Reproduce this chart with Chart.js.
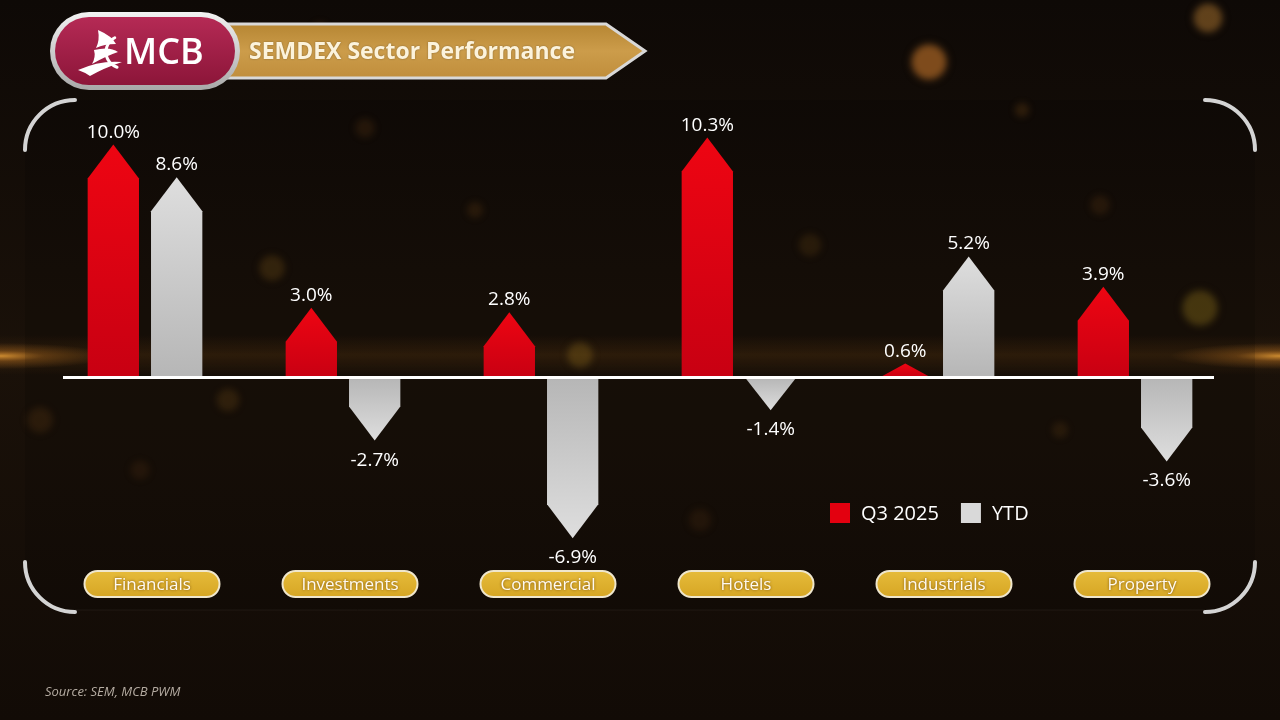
<!DOCTYPE html>
<html>
<head>
<meta charset="utf-8">
<title>SEMDEX Sector Performance</title>
<script src="https://cdn.jsdelivr.net/npm/chart.js@4.4.1/dist/chart.umd.min.js"></script>
<style>
  html, body { margin: 0; padding: 0; background: #120b06; overflow: hidden; }
  .chart-wrap { position: relative; width: 1280px; height: 720px; }
</style>
</head>
<body>
<div class="chart-wrap">
  <canvas id="chart" width="1280" height="720"></canvas>
</div>
<script>
// data
const categories = ['Financials', 'Investments', 'Commercial', 'Hotels', 'Industrials', 'Property'];
const q3Values = [10.0, 3.0, 2.8, 10.3, 0.6, 3.9];
const ytdValues = [8.6, -2.7, -6.9, -1.4, 5.2, -3.6];
const seriesNames = ['Q3 2025', 'YTD'];
const seriesColors = ['#e3000f', '#d9d9d9'];

const titleText = 'SEMDEX Sector Performance';
const sourceText = 'Source: SEM, MCB PWM';

/*background bokeh (decoration only)*/
const bokeh = [
  [929, 62, 22, 'rgba(235,140,50,0.5)'],
  [1208, 18, 18, 'rgba(220,150,60,0.4)'],
  [1200, 308, 22, 'rgba(210,170,40,0.3)'],
  [272, 268, 16, 'rgba(200,140,40,0.2)'],
  [228, 400, 14, 'rgba(190,130,40,0.18)'],
  [580, 355, 16, 'rgba(210,160,40,0.25)'],
  [810, 245, 14, 'rgba(190,130,40,0.15)'],
  [475, 210, 10, 'rgba(190,120,40,0.15)'],
  [1022, 110, 9, 'rgba(190,120,40,0.2)'],
  [365, 128, 12, 'rgba(180,110,40,0.15)'],
  [1100, 205, 12, 'rgba(180,110,40,0.15)'],
  [700, 520, 14, 'rgba(170,100,40,0.12)'],
  [140, 470, 12, 'rgba(170,100,40,0.12)'],
  [1060, 430, 10, 'rgba(180,120,40,0.14)'],
  [320, 30, 10, 'rgba(170,100,40,0.14)'],
  [40, 420, 16, 'rgba(190,120,40,0.15)']
];

function roundRect(ctx, x, y, w, h, r) {
  ctx.beginPath();
  ctx.moveTo(x + r, y);
  ctx.lineTo(x + w - r, y);
  ctx.arc(x + w - r, y + r, r, -Math.PI / 2, 0);
  ctx.lineTo(x + w, y + h - r);
  ctx.arc(x + w - r, y + h - r, r, 0, Math.PI / 2);
  ctx.lineTo(x + r, y + h);
  ctx.arc(x + r, y + h - r, r, Math.PI / 2, Math.PI);
  ctx.lineTo(x, y + r);
  ctx.arc(x + r, y + r, r, Math.PI, Math.PI * 1.5);
  ctx.closePath();
}

function flare(ctx, x, y) {
  ctx.save();
  ctx.translate(x, y);
  ctx.scale(1, 0.12);
  let g = ctx.createRadialGradient(0, 0, 0, 0, 0, 110);
  g.addColorStop(0, 'rgba(255,175,60,0.75)');
  g.addColorStop(0.4, 'rgba(230,140,40,0.3)');
  g.addColorStop(1, 'rgba(230,140,40,0)');
  ctx.fillStyle = g;
  ctx.beginPath();
  ctx.arc(0, 0, 110, 0, Math.PI * 2);
  ctx.fill();
  ctx.restore();
}

/*background, header, frame*/
const backdrop = {
  id: 'backdrop',
  beforeDraw(chart) {
    const ctx = chart.ctx;
    const W = chart.width, H = chart.height;
    ctx.save();
    let bg = ctx.createLinearGradient(0, 0, 0, H);
    bg.addColorStop(0, '#0e0906');
    bg.addColorStop(0.5, '#1a1109');
    bg.addColorStop(1, '#120b06');
    ctx.fillStyle = bg;
    ctx.fillRect(0, 0, W, H);

    // warm horizontal streak
    let streak = ctx.createLinearGradient(0, 335, 0, 375);
    streak.addColorStop(0, 'rgba(200,120,30,0)');
    streak.addColorStop(0.5, 'rgba(200,120,30,0.14)');
    streak.addColorStop(1, 'rgba(200,120,30,0)');
    ctx.fillStyle = streak;
    ctx.fillRect(0, 335, W, 40);
    flare(ctx, 0, 356);
    flare(ctx, W, 356);

    ctx.filter = 'blur(3px)';
    bokeh.forEach(function (b) {
      let g = ctx.createRadialGradient(b[0], b[1], 0, b[0], b[1], b[2]);
      g.addColorStop(0, b[3]);
      g.addColorStop(0.7, b[3]);
      g.addColorStop(1, 'rgba(0,0,0,0)');
      ctx.fillStyle = g;
      ctx.beginPath();
      ctx.arc(b[0], b[1], b[2], 0, Math.PI * 2);
      ctx.fill();
    });
    ctx.filter = 'none';

    // panel
    roundRect(ctx, 25, 100, 1230, 510, 50);
    ctx.fillStyle = 'rgba(0,0,0,0.12)';
    ctx.fill();
    ctx.strokeStyle = 'rgba(255,255,255,0.06)';
    ctx.lineWidth = 1;
    ctx.beginPath();
    ctx.moveTo(75, 610);
    ctx.lineTo(1205, 610);
    ctx.stroke();

    // corner arcs
    ctx.strokeStyle = '#d4d4d4';
    ctx.lineWidth = 4;
    ctx.lineCap = 'round';
    [[75, 150, Math.PI, Math.PI * 1.5], [1205, 150, Math.PI * 1.5, Math.PI * 2],
     [75, 562, Math.PI * 0.5, Math.PI], [1205, 562, 0, Math.PI * 0.5]].forEach(function (a) {
      ctx.beginPath();
      ctx.arc(a[0], a[1], 50, a[2], a[3]);
      ctx.stroke();
    });

    // title banner (arrow)
    ctx.beginPath();
    ctx.moveTo(215, 24);
    ctx.lineTo(606, 24);
    ctx.lineTo(645, 51);
    ctx.lineTo(606, 78);
    ctx.lineTo(215, 78);
    ctx.closePath();
    let gold = ctx.createLinearGradient(0, 24, 0, 78);
    gold.addColorStop(0, '#b68633');
    gold.addColorStop(0.5, '#cc9c4a');
    gold.addColorStop(1, '#c08e3c');
    ctx.fillStyle = gold;
    ctx.fill();
    ctx.strokeStyle = '#d8d8d8';
    ctx.lineWidth = 3;
    ctx.lineJoin = 'miter';
    ctx.stroke();

    ctx.fillStyle = '#fcf3dc';
    ctx.font = 'bold 23px "Open Sans"';
    ctx.textAlign = 'left';
    ctx.textBaseline = 'alphabetic';
    ctx.shadowColor = 'rgba(0,0,0,0.35)';
    ctx.shadowBlur = 2;
    ctx.fillText(titleText, 249, 59, 326);
    ctx.shadowBlur = 0;

    // logo pill
    roundRect(ctx, 50, 12, 190, 78, 39);
    let silver = ctx.createLinearGradient(0, 12, 0, 90);
    silver.addColorStop(0, '#f2f2f2');
    silver.addColorStop(1, '#a8a8a8');
    ctx.fillStyle = silver;
    ctx.fill();
    roundRect(ctx, 55, 17, 180, 68, 34);
    let crimson = ctx.createLinearGradient(0, 17, 0, 85);
    crimson.addColorStop(0, '#b52a55');
    crimson.addColorStop(1, '#8c1539');
    ctx.fillStyle = crimson;
    ctx.fill();

    // sail icon
    ctx.fillStyle = '#ffffff';
    ctx.beginPath();
    ctx.moveTo(98, 30);
    ctx.quadraticCurveTo(112, 36, 116, 44);
    ctx.quadraticCurveTo(104, 44, 96, 48);
    ctx.quadraticCurveTo(100, 40, 98, 30);
    ctx.fill();
    ctx.beginPath();
    ctx.moveTo(94, 50);
    ctx.quadraticCurveTo(110, 46, 118, 52);
    ctx.quadraticCurveTo(106, 56, 92, 64);
    ctx.quadraticCurveTo(96, 57, 94, 50);
    ctx.fill();
    ctx.beginPath();
    ctx.moveTo(78, 70);
    ctx.quadraticCurveTo(100, 60, 122, 62);
    ctx.quadraticCurveTo(104, 68, 90, 76);
    ctx.quadraticCurveTo(84, 72, 78, 70);
    ctx.fill();
    ctx.lineWidth = 3;
    ctx.strokeStyle = '#ffffff';
    ctx.beginPath();
    ctx.arc(122, 52, 16, Math.PI * 0.6, Math.PI * 1.35);
    ctx.stroke();

    ctx.font = '600 36px "Open Sans"';
    ctx.fillStyle = '#ffffff';
    ctx.fillText('MCB', 124, 64, 80);

    // source
    ctx.font = 'italic 13px "Open Sans"';
    ctx.fillStyle = '#b5aca2';
    ctx.fillText(sourceText, 45, 696, 138);
    ctx.restore();
  }
};

/*arrow bars, labels, pills, legend*/
const arrows = {
  id: 'arrows',
  afterDatasetsDraw(chart) {
    const ctx = chart.ctx;
    const yScale = chart.scales.y;
    const xScale = chart.scales.x;
    const zero = yScale.getPixelForValue(0);
    ctx.save();

    chart.data.datasets.forEach(function (ds, i) {
      const meta = chart.getDatasetMeta(i);
      meta.data.forEach(function (bar, j) {
        const p = bar.getProps(['x', 'y', 'base', 'width'], true);
        const h = Math.abs(p.base - p.y);
        const dir = p.y < p.base ? -1 : 1;
        const tip = Math.min(34, h);
        const shoulder = p.y - dir * tip;
        const l = p.x - p.width / 2, r = p.x + p.width / 2;
        let g = ctx.createLinearGradient(0, p.y, 0, p.base);
        if (i === 0) {
          g.addColorStop(0, '#ee0512');
          g.addColorStop(1, '#c80012');
        } else {
          g.addColorStop(0, '#dedede');
          g.addColorStop(1, '#b6b6b6');
        }
        ctx.fillStyle = g;
        ctx.beginPath();
        ctx.moveTo(l, p.base);
        ctx.lineTo(l, shoulder);
        ctx.lineTo(p.x, p.y);
        ctx.lineTo(r, shoulder);
        ctx.lineTo(r, p.base);
        ctx.closePath();
        ctx.fill();

        // value label
        const v = ds.data[j];
        ctx.fillStyle = '#ffffff';
        ctx.font = '19px "Open Sans"';
        ctx.textAlign = 'center';
        ctx.textBaseline = 'alphabetic';
        const txt = v.toFixed(1) + '%';
        if (v >= 0) ctx.fillText(txt, p.x, p.y - 7);
        else ctx.fillText(txt, p.x, p.y + 25);
      });
    });

    // zero line
    ctx.strokeStyle = '#ffffff';
    ctx.lineWidth = 3;
    ctx.beginPath();
    ctx.moveTo(63, zero);
    ctx.lineTo(1214, zero);
    ctx.stroke();

    // category pills
    categories.forEach(function (c, i) {
      const cx = xScale.getPixelForValue(i) + 7;
      const pw = 135, ph = 26, py = 571;
      roundRect(ctx, cx - pw / 2, py, pw, ph, 13);
      let g = ctx.createLinearGradient(0, py, 0, py + ph);
      g.addColorStop(0, '#e6bb3a');
      g.addColorStop(1, '#d6a624');
      ctx.fillStyle = g;
      ctx.fill();
      ctx.strokeStyle = '#efe6cc';
      ctx.lineWidth = 2;
      ctx.stroke();
      ctx.fillStyle = '#fffaf0';
      ctx.font = '17px "Open Sans"';
      ctx.textAlign = 'center';
      ctx.textBaseline = 'middle';
      ctx.shadowColor = 'rgba(90,50,0,0.8)';
      ctx.shadowBlur = 3;
      ctx.fillText(c, cx, py + ph / 2 + 1, 98);
      ctx.shadowBlur = 0;
    });

    // legend
    let lx = 830;
    chart.data.datasets.forEach(function (ds, i) {
      ctx.fillStyle = seriesColors[i];
      ctx.fillRect(lx, 503, 20, 20);
      ctx.fillStyle = '#ffffff';
      ctx.font = '20px "Open Sans"';
      ctx.textAlign = 'left';
      ctx.textBaseline = 'alphabetic';
      ctx.fillText(ds.label, lx + 31, 520);
      lx += 31 + ctx.measureText(ds.label).width + 22;
    });
    ctx.restore();
  }
};

new Chart(document.getElementById('chart'), {
  type: 'bar',
  data: {
    labels: categories,
    datasets: [
      { label: seriesNames[0], data: q3Values, backgroundColor: 'rgba(0,0,0,0)' },
      { label: seriesNames[1], data: ytdValues, backgroundColor: 'rgba(0,0,0,0)' }
    ]
  },
  options: {
    responsive: false,
    animation: false,
    categoryPercentage: 0.64,
    barPercentage: 0.81,
    layout: { padding: { left: 46, right: 46, top: 98, bottom: 156 } },
    scales: {
      x: { display: false },
      y: { display: false, min: -8, max: 12 }
    },
    plugins: {
      legend: { display: false },
      tooltip: { enabled: false }
    }
  },
  plugins: [backdrop, arrows]
});
</script>
</body>
</html>
